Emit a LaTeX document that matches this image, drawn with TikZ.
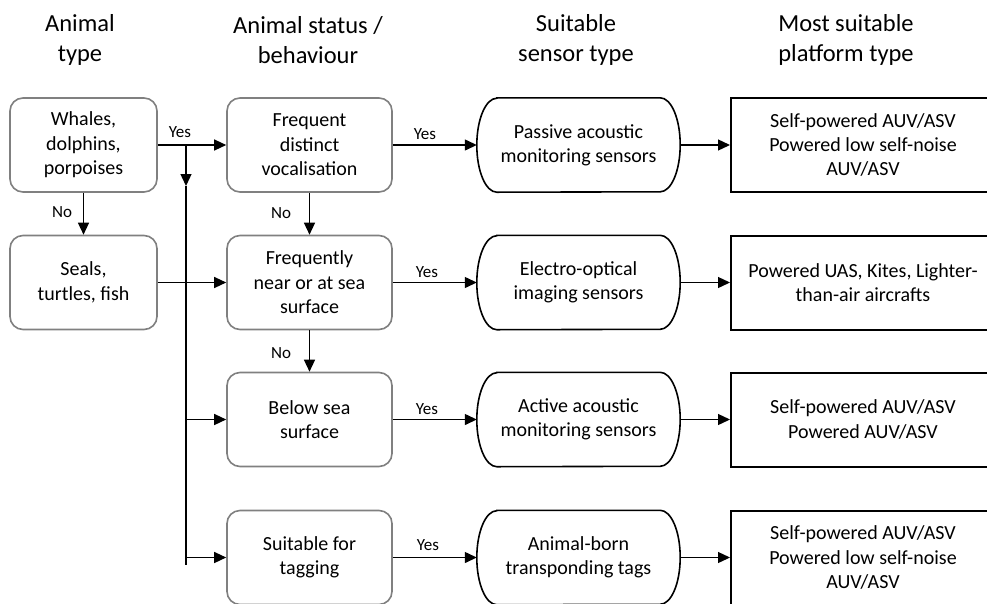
\documentclass[tikz,border=0pt]{standalone}
\usepackage{fontspec}
\setmainfont{Carlito}
\usetikzlibrary{arrows.meta,calc}
\definecolor{boxgray}{HTML}{808080}
\tikzset{
  every node/.style={align=center},
  hdr/.style={font=\fontsize{24.5}{30}\selectfont, inner sep=0pt},
  body/.style={font=\fontsize{20}{24.4}\selectfont},
  lbl/.style={font=\fontsize{17}{20}\selectfont, inner sep=0pt},
  graybox/.style={body, draw=boxgray, line width=1.6pt, rounded corners=13pt, fill=white, minimum height=94pt, inner sep=0pt},
  colA/.style={graybox, minimum width=147pt},
  colB/.style={graybox, minimum width=165pt},
  colC/.style={body, minimum width=203pt, minimum height=94pt, inner sep=0pt},
  colD/.style={body, draw=black, line width=2pt, minimum width=264pt, minimum height=94pt, inner sep=0pt},
  stadium/.style={draw=black, line width=1.6pt},
  arr/.style={line width=1.3pt, -{Triangle[length=12pt,width=11pt]}},
  ln/.style={line width=1.3pt},
}
\begin{document}
\begin{tikzpicture}[x=1pt,y=1pt]
\useasboundingbox (0,0) rectangle (987,-603);
\clip (0,0) rectangle (987,-603);
\fill[white] (0,0) rectangle (987,-603);

% headers
\node[hdr] (h1) at (80,-40) {Animal\\type};
\node[hdr] (h2) at (308,-40) {Animal status /\\behaviour};
\node[hdr] (h3) at (576,-40) {Suitable\\sensor type};
\node[hdr] (h4) at (846,-40) {Most suitable\\platform type};

% column A
\node[colA] (a1) at (83.5,-145) {Whales,\\dolphins,\\porpoises};
\node[colA] (a2) at (83.5,-282.5) {Seals,\\turtles, fish};

% column B
\node[colB] (b1) at (309.5,-145) {Frequent\\distinct\\vocalisation};
\node[colB] (b2) at (309.5,-282.5) {Frequently\\near or at sea\\surface};
\node[colB] (b3) at (309.5,-419.5) {Below sea\\surface};
\node[colB] (b4) at (309.5,-557.5) {Suitable for\\tagging};

% column C (stadium shapes)
\node[colC] (c1) at (578.5,-145) {Passive acoustic\\monitoring sensors};
\node[colC] (c2) at (578.5,-282.5) {Electro-optical\\imaging sensors};
\node[colC] (c3) at (578.5,-419.5) {Active acoustic\\monitoring sensors};
\node[colC] (c4) at (578.5,-557.5) {Animal-born\\transponding tags};
\foreach \n in {c1,c2,c3,c4}{
  \draw[stadium] ($(\n.north west)+(20,0)$) -- ($(\n.north east)+(-20,0)$)
    arc[start angle=90, end angle=-90, x radius=20, y radius=47]
    -- ($(\n.south west)+(20,0)$)
    arc[start angle=270, end angle=90, x radius=20, y radius=47] -- cycle;
}

% column D
\node[colD] (d1) at (863,-145) {Self-powered AUV/ASV\\Powered low self-noise\\AUV/ASV};
\node[colD] (d2) at (863,-282.5) {Powered UAS, Kites, Lighter-\\than-air aircrafts};
\node[colD] (d3) at (863,-419.5) {Self-powered AUV/ASV\\Powered AUV/ASV};
\node[colD] (d4) at (863,-557.5) {Self-powered AUV/ASV\\Powered low self-noise\\AUV/ASV};

% junction coordinates
\coordinate (jtop) at (186,-145);
\coordinate (jmid) at (186,-186);
\coordinate (jr3) at (186,-419.5);
\coordinate (jr4) at (186,-557.5);
\coordinate (jend) at (186,-565);

% connectors
\draw[arr] (a1.east) -- (b1.west);
\draw[arr] (jtop) -- (jmid);
\draw[ln] (jmid) -- (jend);
\draw[arr] (jr3) -- (b3.west);
\draw[arr] (jr4) -- (b4.west);
\draw[arr] (a1.south) -- (a2.north);
\draw[arr] (a2.east) -- (b2.west);
\draw[arr] (b1.south) -- (b2.north);
\draw[arr] (b2.south) -- (b3.north);
\foreach \r in {1,2,3,4}{
  \draw[arr] (b\r.east) -- (c\r.west);
  \draw[arr] (c\r.east) -- (d\r.west);
}

% labels
\node[lbl] (y0) at (180,-132) {Yes};
\node[lbl] (n0) at (62,-212) {No};
\node[lbl] (n1) at (281,-213) {No};
\node[lbl] (n2) at (281,-353) {No};
\node[lbl] (y1) at (425,-134) {Yes};
\node[lbl] (y2) at (427,-272) {Yes};
\node[lbl] (y3) at (427,-409) {Yes};
\node[lbl] (y4) at (428,-545) {Yes};
\end{tikzpicture}
\end{document}
